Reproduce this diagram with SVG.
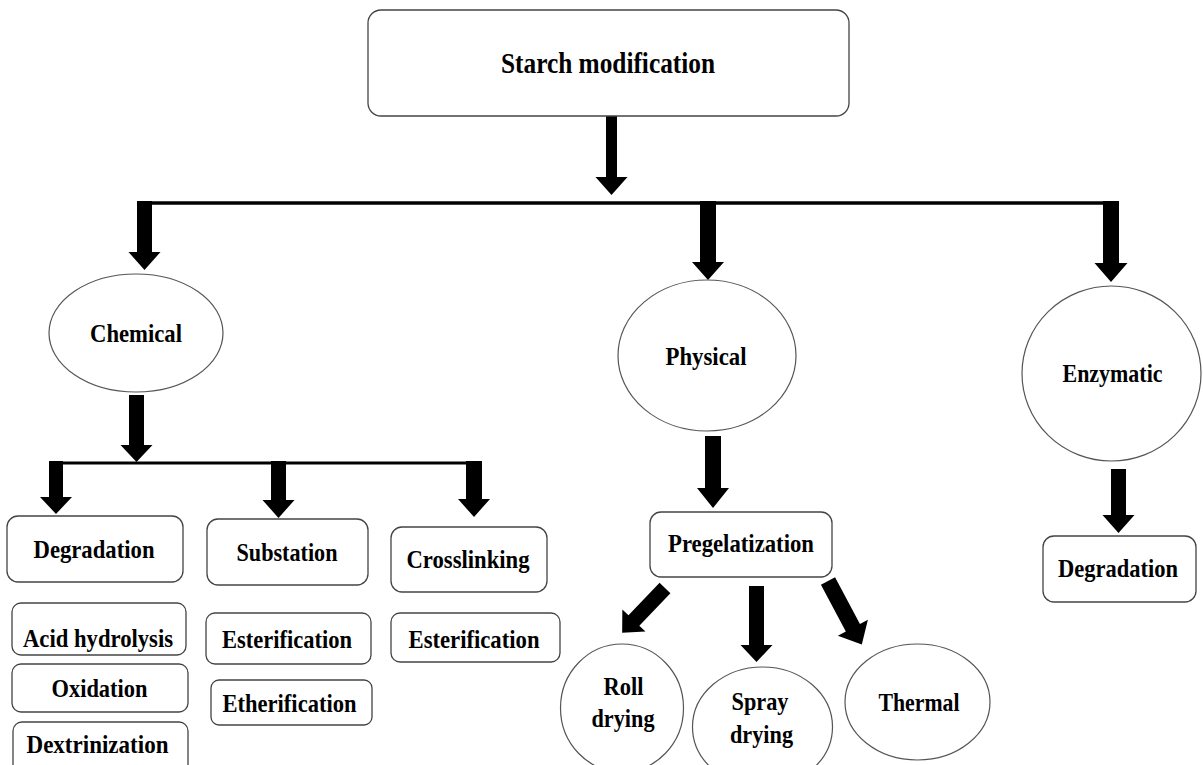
<svg xmlns="http://www.w3.org/2000/svg" width="1203" height="765" viewBox="0 0 1203 765">
  <style>
    .box { fill: #ffffff; stroke: #444444; stroke-width: 1.3; }
    .oval { fill: #ffffff; stroke: #555555; stroke-width: 1.2; }
    .lbl { font-family: "Liberation Serif", "Times New Roman", serif; font-weight: bold; font-size: 25px; fill: #000000; text-anchor: middle; }
    .big { font-size: 26px; }
    .title { font-size: 29px; }
    .bar { stroke: #000000; fill: none; }
    .arrow { fill: #000000; stroke: none; }
  </style>
  <rect width="1203" height="765" fill="#ffffff"/>

  <!-- connectors: bus lines and block arrows -->
  <g id="connectors">
    <line class="bar" x1="137" y1="203" x2="1119" y2="203" stroke-width="3.5"/>
    <line class="bar" x1="49" y1="463" x2="482" y2="463" stroke-width="3"/>

    <polygon class="arrow" points="606,116 617,116 617,177 627.5,177 611.5,195 595.5,177 606,177"/>
    <polygon class="arrow" points="137,201 152,201 152,252 160.5,252 144.5,270 128.5,252 137,252"/>
    <polygon class="arrow" points="700,201 716,201 716,262 724,262 708,280 692,262 700,262"/>
    <polygon class="arrow" points="1103,201 1119,201 1119,263 1127.5,263 1111,282 1094.5,263 1103,263"/>

    <polygon class="arrow" points="129,395 144,395 144,445 152.5,445 136.5,462 120.5,445 129,445"/>
    <polygon class="arrow" points="49,461 63,461 63,497 72,497 56,514 40,497 49,497"/>
    <polygon class="arrow" points="271,461 286,461 286,500 294.5,500 278.5,518 262.5,500 271,500"/>
    <polygon class="arrow" points="466,461 482,461 482,499 490,499 474,517 458,499 466,499"/>

    <polygon class="arrow" points="705,436 721,436 721,488 729,488 713,508 697,488 705,488"/>
    <polygon class="arrow" points="1111,469 1126,469 1126,515 1134.5,515 1118.5,533 1102.5,515 1111,515"/>

    <polygon class="arrow" points="749,586 764,586 764,645 772.5,645 756.5,662 740.5,645 749,645"/>
    <polygon class="arrow" transform="translate(665,588) rotate(43.7)" points="-7.5,0 7.5,0 7.5,45 16,45 0,62 -16,45 -7.5,45"/>
    <polygon class="arrow" transform="translate(828,581) rotate(-28)" points="-8,0 8,0 8,53 17,53 0,72 -17,53 -8,53"/>
  </g>

  <g id="starch-modification">
    <rect class="box" x="368" y="10" width="481" height="106" rx="13"/>
    <text class="lbl title" x="608" y="73" textLength="214" lengthAdjust="spacingAndGlyphs">Starch modification</text>
  </g>

  <g id="chemical">
    <ellipse class="oval" cx="136" cy="333" rx="87" ry="59"/>
    <text class="lbl big" x="136" y="342" textLength="92" lengthAdjust="spacingAndGlyphs">Chemical</text>
  </g>

  <g id="physical">
    <ellipse class="oval" cx="707" cy="355.5" rx="89" ry="75.5"/>
    <text class="lbl big" x="706" y="365" textLength="81" lengthAdjust="spacingAndGlyphs">Physical</text>
  </g>

  <g id="enzymatic">
    <ellipse class="oval" cx="1111.5" cy="373.5" rx="89.5" ry="87.5"/>
    <text class="lbl big" x="1112.5" y="382" textLength="100" lengthAdjust="spacingAndGlyphs">Enzymatic</text>
  </g>

  <g id="chem-degradation">
    <rect class="box" x="7" y="516" width="176" height="66" rx="11"/>
    <text class="lbl" x="94" y="558" textLength="121" lengthAdjust="spacingAndGlyphs">Degradation</text>
  </g>

  <g id="acid-hydrolysis">
    <rect class="box" x="12" y="603" width="174" height="52" rx="9"/>
    <text class="lbl" x="98" y="647" textLength="150" lengthAdjust="spacingAndGlyphs">Acid hydrolysis</text>
  </g>

  <g id="oxidation">
    <rect class="box" x="12" y="664" width="176" height="48" rx="9"/>
    <text class="lbl" x="99.5" y="697" textLength="96" lengthAdjust="spacingAndGlyphs">Oxidation</text>
  </g>

  <g id="dextrinization">
    <rect class="box" x="13" y="722" width="175" height="52" rx="9"/>
    <text class="lbl" x="97.5" y="753" textLength="142" lengthAdjust="spacingAndGlyphs">Dextrinization</text>
  </g>

  <g id="substation">
    <rect class="box" x="207" y="519" width="161" height="66" rx="11"/>
    <text class="lbl" x="287" y="561" textLength="101" lengthAdjust="spacingAndGlyphs">Substation</text>
  </g>

  <g id="esterification-a">
    <rect class="box" x="206" y="613" width="165" height="51" rx="9"/>
    <text class="lbl" x="287" y="648" textLength="130" lengthAdjust="spacingAndGlyphs">Esterification</text>
  </g>

  <g id="etherification">
    <rect class="box" x="211" y="680" width="161" height="45" rx="8"/>
    <text class="lbl" x="289.5" y="712" textLength="134" lengthAdjust="spacingAndGlyphs">Etherification</text>
  </g>

  <g id="crosslinking">
    <rect class="box" x="391" y="527" width="156" height="65" rx="11"/>
    <text class="lbl" x="468" y="568" textLength="123" lengthAdjust="spacingAndGlyphs">Crosslinking</text>
  </g>

  <g id="esterification-b">
    <rect class="box" x="391" y="613" width="169" height="49" rx="9"/>
    <text class="lbl" x="474" y="648" textLength="131" lengthAdjust="spacingAndGlyphs">Esterification</text>
  </g>

  <g id="pregelatization">
    <rect class="box" x="650" y="512" width="182" height="65" rx="11"/>
    <text class="lbl" x="741" y="552" textLength="146" lengthAdjust="spacingAndGlyphs">Pregelatization</text>
  </g>

  <g id="enz-degradation">
    <rect class="box" x="1043" y="536" width="153" height="66" rx="11"/>
    <text class="lbl" x="1118" y="577" textLength="120" lengthAdjust="spacingAndGlyphs">Degradation</text>
  </g>

  <g id="roll-drying">
    <ellipse class="oval" cx="622" cy="708" rx="61.5" ry="64"/>
    <text class="lbl" x="623.5" y="695" textLength="40" lengthAdjust="spacingAndGlyphs">Roll</text>
    <text class="lbl" x="623" y="727" textLength="63" lengthAdjust="spacingAndGlyphs">drying</text>
  </g>

  <g id="spray-drying">
    <ellipse class="oval" cx="762.5" cy="727" rx="70" ry="60"/>
    <text class="lbl" x="760" y="710" textLength="57" lengthAdjust="spacingAndGlyphs">Spray</text>
    <text class="lbl" x="761.5" y="743" textLength="63" lengthAdjust="spacingAndGlyphs">drying</text>
  </g>

  <g id="thermal">
    <ellipse class="oval" cx="917.5" cy="702" rx="72.5" ry="58"/>
    <text class="lbl" x="919" y="711" textLength="81" lengthAdjust="spacingAndGlyphs">Thermal</text>
  </g>
</svg>
